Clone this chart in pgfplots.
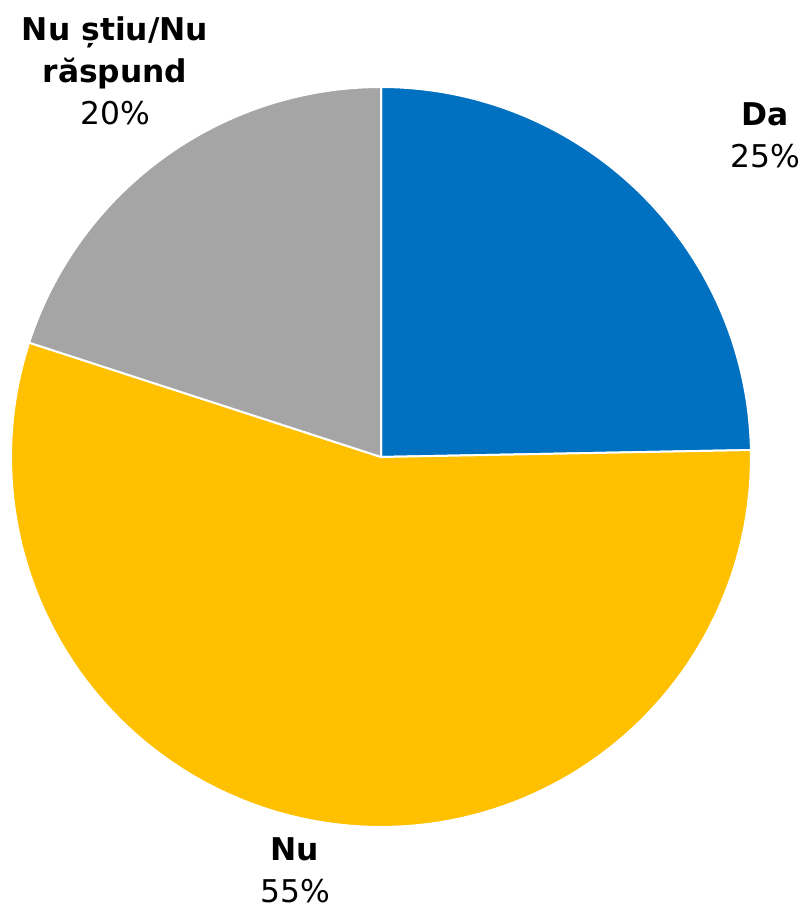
\documentclass[border=0pt]{standalone}
\usepackage{fontspec}
\setmainfont{DejaVu Sans}
\usepackage{pgfplots}
\pgfplotsset{compat=1.18}
\definecolor{cDa}{HTML}{0070C0}
\definecolor{cNu}{HTML}{FFC000}
\definecolor{cNS}{HTML}{A5A5A5}
% shares (percent)
\def\vDa{24.7}
\def\vNu{55.3}
\def\vNS{20.0}
\begin{document}
\begin{tikzpicture}
\begin{axis}[
  x=0.75pt, y=0.75pt,
  xmin=-381, xmax=423, ymin=-451, ymax=457,
  hide axis, clip=false,
  anchor=south west, at={(0,0)},
  samples=120,
]
\pgfmathsetmacro{\aA}{90}
\pgfmathsetmacro{\aB}{90-3.6*\vDa}
\pgfmathsetmacro{\aC}{\aB-3.6*\vNu}
\pgfmathsetmacro{\aD}{\aC-3.6*\vNS}
\addplot[fill=cDa, draw=white, line width=1.5pt, domain=\aB:\aA] ({370*cos(x)},{370*sin(x)}) -- (0,0) -- cycle;
\addplot[fill=cNu, draw=white, line width=1.5pt, domain=\aC:\aB] ({370*cos(x)},{370*sin(x)}) -- (0,0) -- cycle;
\addplot[fill=cNS, draw=white, line width=1.5pt, domain=\aD:\aC] ({370*cos(x)},{370*sin(x)}) -- (0,0) -- cycle;
\tikzset{lab/.style={align=center, font=\fontsize{23.5}{31.5}\selectfont, inner sep=0pt}}
\node[lab] at (384,322) {\textbf{Da}\\25\%};
\node[lab] at (-86,-413) {\textbf{Nu}\\55\%};
\node[lab] at (-266,386) {\textbf{Nu știu/Nu}\\\textbf{răspund}\\20\%};
\end{axis}
\pgfresetboundingbox
\path (0,0) rectangle (603pt,681pt);
\end{tikzpicture}
\end{document}
